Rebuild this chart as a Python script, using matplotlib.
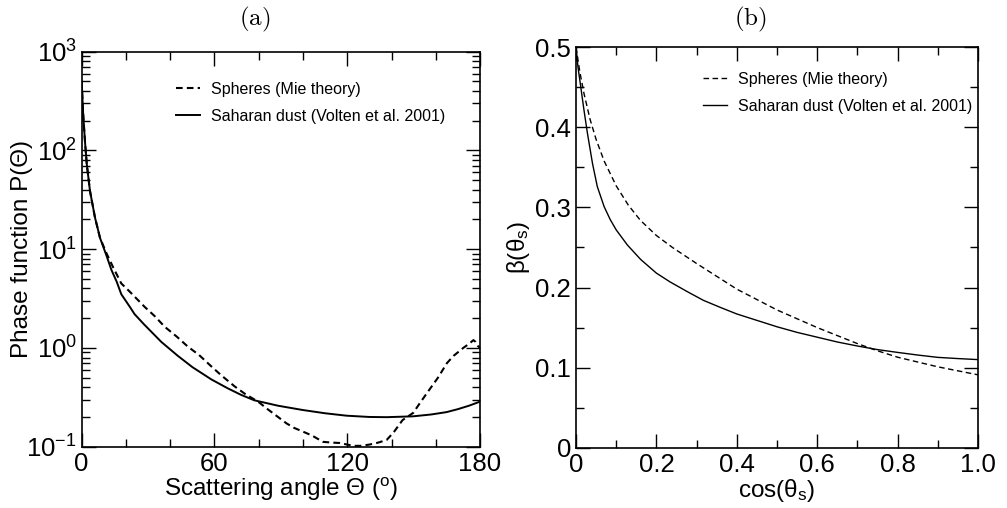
import numpy as np
import matplotlib
matplotlib.use("Agg")
import matplotlib.pyplot as plt
from matplotlib.ticker import MultipleLocator, LogLocator, NullFormatter

plt.rcParams['font.family'] = ['Liberation Sans', 'DejaVu Sans']
plt.rcParams['mathtext.fontset'] = 'custom'
plt.rcParams['mathtext.rm'] = 'Liberation Sans'
plt.rcParams['mathtext.it'] = 'Liberation Sans:italic'

# (a) phase function vs scattering angle
dust_angle = [0, 0.7, 1.5, 2.3, 3.75, 6, 8.3, 11.3, 13.4, 15.8, 17.9, 21.8, 23.9, 28,
              36, 43.5, 50, 58.6, 66, 72, 78, 88.7, 100, 110, 119.7, 130, 137.8,
              149.8, 158, 164.9, 170, 175, 180]
dust_p = [500, 229, 123, 73, 39, 21, 13, 8.5, 6.2, 4.7, 3.5, 2.6, 2.2, 1.75,
          1.15, 0.83, 0.64, 0.48, 0.39, 0.335, 0.295, 0.26, 0.235, 0.218, 0.206,
          0.200, 0.199, 0.203, 0.212, 0.224, 0.24, 0.26, 0.286]

mie_angle = [0, 0.7, 1.5, 2.3, 3.75, 6, 8.3, 11.3, 14.3, 17.9, 21.8, 28.5, 33, 37.5,
             43, 48, 53, 58.6, 63, 69, 74, 79.7, 84, 88.7, 92.6, 96, 100, 104, 109,
             113, 116.7, 120, 122.7, 126, 130, 134, 137.8, 141, 145, 149.8, 153, 157,
             161, 165, 168, 172.4, 175, 177, 178, 179, 180]
mie_p = [500, 229, 123, 73, 39, 21, 13, 9, 6.5, 4.5, 3.7, 2.6, 2.1, 1.64,
         1.3, 1.03, 0.85, 0.65, 0.53, 0.41, 0.34, 0.286, 0.24, 0.20, 0.172, 0.155,
         0.142, 0.13, 0.112, 0.11, 0.109, 0.105, 0.102, 0.102, 0.105, 0.11, 0.117,
         0.14, 0.186, 0.22, 0.28, 0.375, 0.5, 0.70, 0.83, 1.0, 1.1, 1.2, 1.15,
         1.05, 1.0]

# (b) beta vs cos(theta_s)
dust_mu = [0, 0.005, 0.012, 0.02, 0.028, 0.041, 0.053, 0.07, 0.085, 0.1, 0.128, 0.161,
           0.2, 0.234, 0.28, 0.317, 0.36, 0.40, 0.45, 0.5, 0.55, 0.6, 0.65, 0.7,
           0.75, 0.8, 0.85, 0.9, 0.95, 1.0]
dust_beta = [0.5, 0.475, 0.45, 0.421, 0.394, 0.355, 0.326, 0.301, 0.285, 0.272, 0.253,
             0.235, 0.218, 0.207, 0.194, 0.184, 0.175, 0.167, 0.159, 0.151, 0.144,
             0.138, 0.132, 0.127, 0.1225, 0.119, 0.1157, 0.1128, 0.1113, 0.110]

mie_mu = [0, 0.01, 0.02, 0.035, 0.05, 0.07, 0.1, 0.13, 0.16, 0.2, 0.24, 0.3, 0.35,
          0.4, 0.45, 0.5, 0.55, 0.6, 0.65, 0.7, 0.75, 0.8, 0.85, 0.9, 0.95, 1.0]
mie_beta = [0.5, 0.468, 0.442, 0.41, 0.385, 0.358, 0.327, 0.303, 0.284, 0.265, 0.25,
            0.23, 0.214, 0.198, 0.185, 0.172, 0.161, 0.150, 0.140, 0.130, 0.121,
            0.113, 0.107, 0.101, 0.096, 0.091]

label_mie = "Spheres (Mie theory)"
label_dust = "Saharan dust (Volten et al. 2001)"

fig = plt.figure(figsize=(10.07, 5.08), dpi=100)
ax1 = fig.add_axes([0.0811, 0.1207, 0.3956, 0.7775])
ax2 = fig.add_axes([0.572, 0.1187, 0.3992, 0.7882])

# panel (a)
ax1.plot(mie_angle, mie_p, 'k--', lw=1.5, dashes=(3.2, 2.0), label=label_mie)
ax1.plot(dust_angle, dust_p, 'k-', lw=1.4, label=label_dust)
ax1.set_yscale('log')
ax1.set_xlim(0, 180)
ax1.set_ylim(0.1, 1000)
ax1.xaxis.set_major_locator(MultipleLocator(60))
ax1.xaxis.set_minor_locator(MultipleLocator(20))
ax1.yaxis.set_major_locator(LogLocator(base=10))
ax1.yaxis.set_minor_locator(LogLocator(base=10, subs=np.arange(2, 10)))
ax1.yaxis.set_minor_formatter(NullFormatter())
ax1.set_xlabel("Scattering angle \u0398 ($^\\mathregular{o}$)", fontsize=17.5, labelpad=0)
ax1.set_ylabel("Phase function P(\u0398)", fontsize=17.5, labelpad=-5)
ax1.legend(loc='upper left', bbox_to_anchor=(0.2, 0.96), frameon=False, fontsize=11.5,
           handlelength=1.5, handletextpad=0.7, labelspacing=0.75)

# panel (b)
ax2.plot(mie_mu, mie_beta, 'k--', lw=1.0, dashes=(4, 2.5), label=label_mie)
ax2.plot(dust_mu, dust_beta, 'k-', lw=1.0, label=label_dust)
ax2.set_xlim(0, 1)
ax2.set_ylim(0, 0.5)
ax2.xaxis.set_minor_locator(MultipleLocator(0.1))
ax2.yaxis.set_minor_locator(MultipleLocator(0.05))
ax2.set_xticks([0, 0.2, 0.4, 0.6, 0.8, 1.0])
ax2.set_xticklabels(['0', '0.2', '0.4', '0.6', '0.8', '1.0'])
ax2.set_yticks([0, 0.1, 0.2, 0.3, 0.4, 0.5])
ax2.set_yticklabels(['0', '0.1', '0.2', '0.3', '0.4', '0.5'])
ax2.set_xlabel("cos(\u03b8$_\\mathregular{s}$)", fontsize=17.5, labelpad=0)
ax2.set_ylabel("\u03b2(\u03b8$_\\mathregular{s}$)", fontsize=17.5, labelpad=2)
ax2.legend(loc='upper left', bbox_to_anchor=(0.28, 0.975), frameon=False, fontsize=11.5,
           handlelength=1.5, handletextpad=0.7, labelspacing=0.75)

for ax in (ax1, ax2):
    ax.tick_params(which='both', direction='in', top=True, right=True, labelsize=18.5)
    ax.tick_params(which='major', length=10, width=1.0)
    ax.tick_params(which='minor', length=6, width=1.0)
    for s in ax.spines.values():
        s.set_linewidth(1.2)

fig.text(0.253, 0.962, r'$\mathrm{(a)}$', math_fontfamily='cm', fontsize=18, ha='center', va='center')
fig.text(0.745, 0.962, r'$\mathrm{(b)}$', math_fontfamily='cm', fontsize=18, ha='center', va='center')

fig.savefig("out.png", dpi=100)
